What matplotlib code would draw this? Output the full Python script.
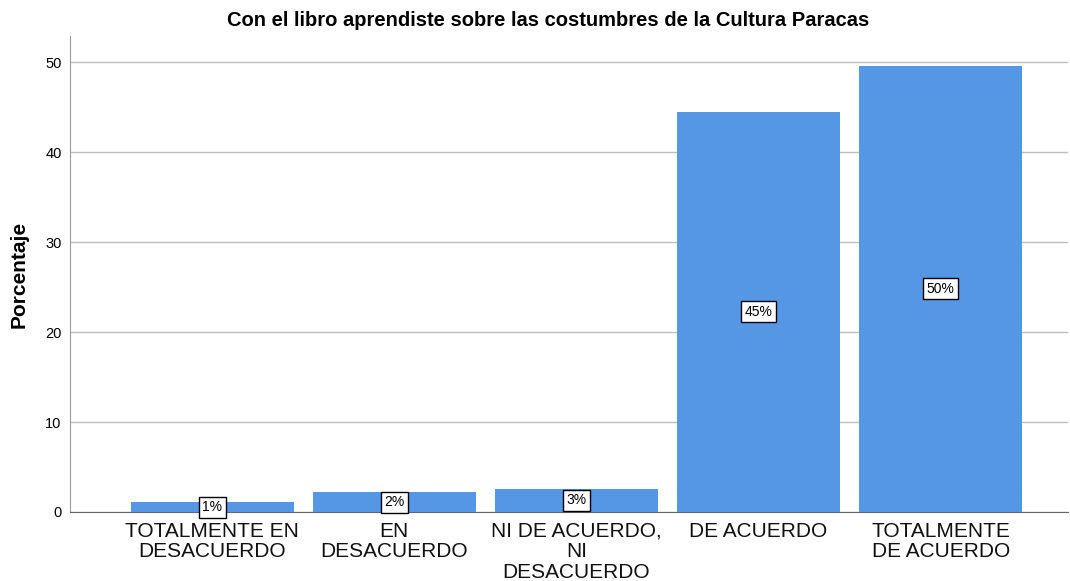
import matplotlib
matplotlib.use("Agg")
import matplotlib.pyplot as plt

# Data
categorias = ["TOTALMENTE EN\nDESACUERDO", "EN\nDESACUERDO", "NI DE ACUERDO,\nNI\nDESACUERDO",
              "DE ACUERDO", "TOTALMENTE\nDE ACUERDO"]
porcentajes = [1.1, 2.2, 2.6, 44.5, 49.6]
etiquetas = ["1%", "2%", "3%", "45%", "50%"]

plt.rcParams['font.family'] = ['Liberation Sans', 'DejaVu Sans']

fig = plt.figure(figsize=(10.7, 5.81), dpi=100)
ax = fig.add_axes([0.0654, 0.1188, 0.933, 0.819])

x = range(len(categorias))
ax.bar(x, porcentajes, width=0.895, color="#5596E5", zorder=3)

for i, (v, lab) in enumerate(zip(porcentajes, etiquetas)):
    ax.text(i, v / 2, lab, ha="center", va="center", fontsize=10, zorder=4,
            bbox=dict(boxstyle="square,pad=0.25", fc="white", ec="black", lw=1))

ax.set_xlim(-0.78, 4.70)
ax.set_ylim(0, 52.9)
ax.set_yticks([0, 10, 20, 30, 40, 50])
ax.yaxis.grid(True, color="#bdbdbd", lw=1, zorder=0)
ax.set_xticks(list(x))
ax.set_xticklabels(categorias, fontsize=15, linespacing=1.1, color="#111111")
ax.tick_params(axis="x", length=0, pad=7)
ax.tick_params(axis="y", length=0, labelsize=10.5, pad=6)

for s in ["top", "right"]:
    ax.spines[s].set_visible(False)
ax.spines["left"].set_color("#999999")
ax.spines["bottom"].set_color("#666666")

ax.set_ylabel("Porcentaje", fontsize=15, fontweight="bold", labelpad=12)
ax.set_title("Con el libro aprendiste sobre las costumbres de la Cultura Paracas",
             fontsize=14.5, fontweight="bold", pad=7, x=0.479)

fig.savefig("out.png", dpi=100)
